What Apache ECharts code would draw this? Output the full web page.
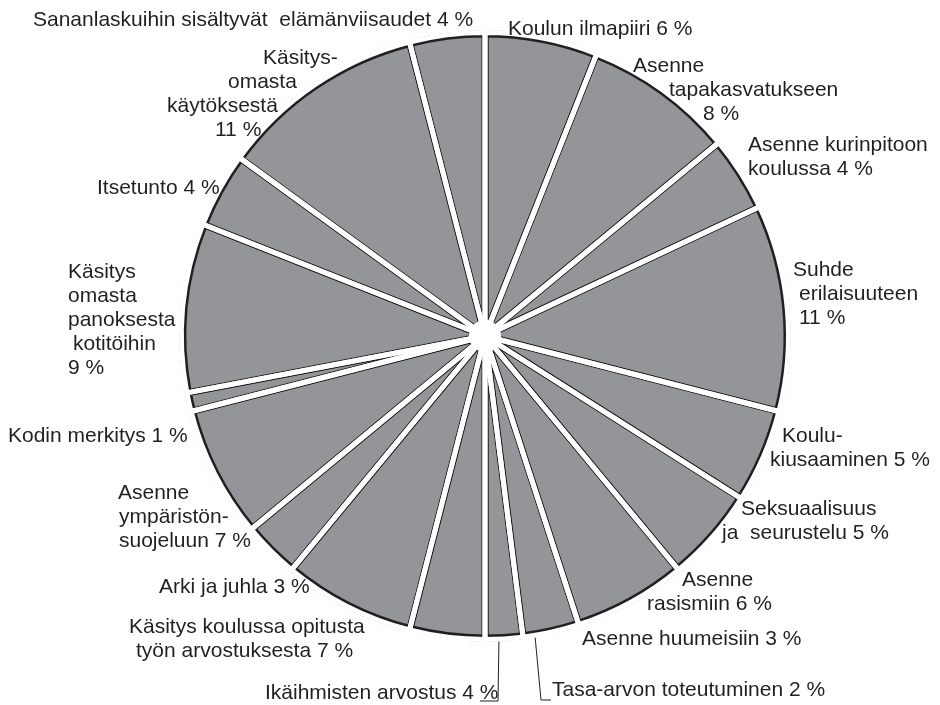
<!DOCTYPE html>
<html>
<head>
<meta charset="utf-8">
<script src="https://cdn.jsdelivr.net/npm/echarts@6/dist/echarts.min.js"></script>
<style>
  html, body { margin: 0; padding: 0; background: #fff; }
  #chart { width: 940px; height: 705px; }
</style>
</head>
<body>
<div id="chart"></div>
<script>
// slices, clockwise from 12 o'clock
const names = [
  'Koulun ilmapiiri',
  'Asenne\ntapakasvatukseen',
  'Asenne kurinpitoon\nkoulussa',
  'Suhde\nerilaisuuteen',
  'Koulu-\nkiusaaminen',
  'Seksuaalisuus\nja  seurustelu',
  'Asenne\nrasismiin',
  'Asenne huumeisiin',
  'Tasa-arvon toteutuminen',
  'Ikäihmisten arvostus',
  'Käsitys koulussa opitusta\ntyön arvostuksesta',
  'Arki ja juhla',
  'Asenne\nympäristön-\nsuojeluun',
  'Kodin merkitys',
  'Käsitys\nomasta\npanoksesta\nkotitöihin',
  'Itsetunto',
  'Käsitys-\nomasta\nkäytöksestä',
  'Sananlaskuihin sisältyvät  elämänviisaudet'
]
const values = [6, 8, 4, 11, 5, 5, 6, 3, 2, 4, 7, 3, 7, 1, 9, 4, 11, 4]
// percentage printed on its own line for these slices
const valueOnOwnLine = [1, 3, 14, 16]

// label placement: [left x, first baseline y, indent of each line]
const labelSpots = [
  [508, 36, [0]],
  [633, 73, [0, 36, 70]],
  [748, 152, [0, 0]],
  [793, 277, [0, 6, 6]],
  [770, 443, [12, 0]],
  [722, 516, [19, 0]],
  [647, 587, [35, 0]],
  [582, 646, [0]],
  [552, 697, [0]],
  [265, 700, [0]],
  [129, 634, [0, 7]],
  [159, 594, [0]],
  [118, 500, [0, 1, 1]],
  [8, 443, [0]],
  [68, 279, [0, 0, 0, 5, 0]],
  [97, 195, [0]],
  [167, 65, [96, 61, 0, 48]],
  [33, 27, [0]]
]
const leaderLines = {
  8: [[535, 636], [541, 700], [551, 700]],
  9: [[499, 637], [498, 701], [480, 701]]
}

const textColor = '#231f20'
const center = [485, 336]

const chart = echarts.init(document.getElementById('chart'))

const sliceData = names.map((name, i) => {
  const sep = valueOnOwnLine.includes(i) ? '\n' : ' '
  const lines = (name + sep + values[i] + ' %').split('\n')
  const rich = {}
  lines.forEach((l, j) => {
    rich['l' + j] = {
      padding: [0, 0, 0, labelSpots[i][2][j] || 0],
      fontSize: 21,
      lineHeight: 24,
      fontFamily: 'Liberation Sans, Arial, sans-serif',
      color: textColor
    }
  })
  return {
    name: name,
    value: values[i],
    label: {
      formatter: lines.map((l, j) => '{l' + j + '|' + l + '}').join('\n'),
      rich: rich
    },
    labelLine: { show: !!leaderLines[i] }
  }
})

const option = {
  animation: false,
  backgroundColor: '#fff',
  series: [
    {
      type: 'pie',
      center: center,
      radius: [0, 302],
      startAngle: 90,
      clockwise: true,
      avoidLabelOverlap: false,
      itemStyle: {
        color: '#939598',
        borderColor: textColor,
        borderWidth: 7
      },
      label: {
        show: true,
        position: 'outside',
        fontSize: 21,
        lineHeight: 24,
        fontFamily: 'Liberation Sans, Arial, sans-serif',
        color: textColor,
        align: 'left'
      },
      labelLine: {
        show: false,
        lineStyle: { color: textColor, width: 1 }
      },
      labelLayout: function (params) {
        const spot = labelSpots[params.dataIndex]
        const out = {
          x: spot[0],
          y: spot[1] - 19,
          align: 'left',
          verticalAlign: 'top'
        }
        if (leaderLines[params.dataIndex]) {
          out.labelLinePoints = leaderLines[params.dataIndex]
        }
        return out
      },
      emphasis: { disabled: true },
      data: sliceData
    },
    {
      // white gaps between the slices
      type: 'pie',
      center: center,
      radius: [0, 303.5],
      startAngle: 90,
      clockwise: true,
      silent: true,
      itemStyle: {
        color: 'rgba(0,0,0,0)',
        borderColor: '#fff',
        borderWidth: 5
      },
      label: { show: false },
      labelLine: { show: false },
      emphasis: { disabled: true },
      data: names.map((name, i) => ({ name: name, value: values[i] }))
    },
    {
      // hole in the middle
      type: 'pie',
      center: center,
      radius: [0, 16],
      silent: true,
      itemStyle: { color: '#fff', borderWidth: 0 },
      label: { show: false },
      labelLine: { show: false },
      emphasis: { disabled: true },
      data: [{ name: 'hole', value: 1 }]
    }
  ]
}

chart.setOption(option)
</script>
</body>
</html>
